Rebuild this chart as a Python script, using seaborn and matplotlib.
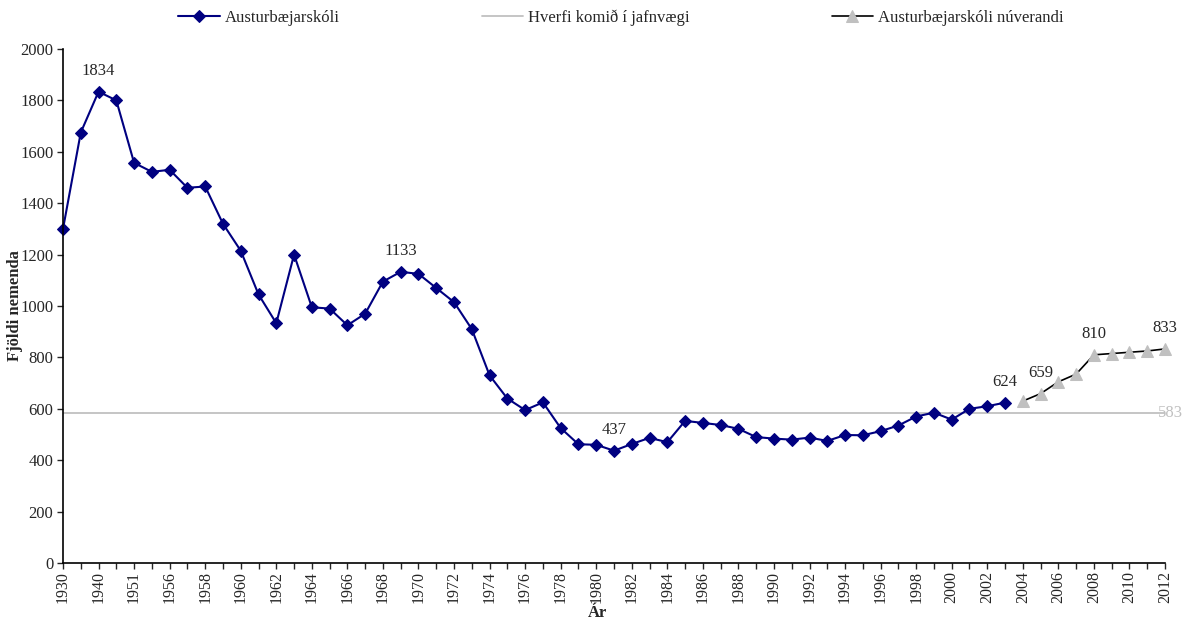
import pandas as pd
import matplotlib.pyplot as plt
import seaborn as sns

# Category labels (one per data point)
years = ["1930", "1935", "1940", "1945", "1951", "1955"] + [str(y) for y in range(1956, 2013)]

# Austurbæjarskóli, 1930-2003
school = [1300, 1675, 1834, 1800, 1557, 1522, 1530, 1460, 1465, 1320,
          1215, 1045, 933, 1200, 995, 990, 925, 970, 1095, 1133,
          1125, 1070, 1015, 910, 730, 640, 595, 625, 525, 462,
          460, 437, 463, 487, 470, 553, 545, 537, 522, 490,
          484, 480, 488, 475, 498, 497, 513, 535, 570, 585,
          558, 600, 610, 624]

# Austurbæjarskóli núverandi, 2004-2012
current = [630, 659, 705, 735, 810, 815, 820, 825, 833]

equilibrium = 583

# data labels shown on the chart: index in each series
labelled_school = [2, 19, 31, 53]
labelled_current = [1, 4, 8]

sns.set_style("white")
plt.rcParams['font.family'] = ['Liberation Serif', 'DejaVu Serif']
FS = 12

df_school = pd.DataFrame({"pos": range(len(school)), "value": school})
df_current = pd.DataFrame({"pos": range(len(school), len(school) + len(current)), "value": current})

fig = plt.figure(figsize=(11.83, 6.21), dpi=100)
ax = fig.add_axes([63 / 1183, 58 / 621, (1165 - 63) / 1183, (563 - 49) / 621])

sns.lineplot(data=df_school, x="pos", y="value", ax=ax, color="#000080", lw=1.5,
             marker="D", markersize=6, markeredgecolor="#000080", label="Austurbæjarskóli",
             clip_on=False)
ax.axhline(equilibrium, color="#C0C0C0", lw=1.3, label="Hverfi komið í jafnvægi", zorder=1)
sns.lineplot(data=df_current, x="pos", y="value", ax=ax, color="black", lw=1.2,
             marker="^", markersize=8, markerfacecolor="#C0C0C0", markeredgecolor="#C0C0C0",
             label="Austurbæjarskóli núverandi", clip_on=False)

for i in labelled_school:
    ax.annotate(str(school[i]), (df_school.pos[i], school[i]), xytext=(0, 9),
                textcoords="offset points", ha="center", va="bottom", fontsize=FS)
for i in labelled_current:
    ax.annotate(str(current[i]), (df_current.pos[i], current[i]), xytext=(0, 9),
                textcoords="offset points", ha="center", va="bottom", fontsize=FS)
ax.annotate(str(equilibrium), (len(years) - 1, equilibrium), xytext=(-5, 0),
            textcoords="offset points", ha="left", va="center", fontsize=FS, color="#C0C0C0")

ax.set_xlim(0, len(years) - 1)
ax.set_ylim(0, 2000)
ax.set_yticks(range(0, 2001, 200))
ax.set_xticks(range(len(years)))
ax.set_xticklabels([y if i % 2 == 0 else "" for i, y in enumerate(years)], rotation=90, fontsize=11.5)
ax.tick_params(axis="y", labelsize=FS, direction="out", length=4, width=1, left=True, pad=3)
ax.tick_params(axis="x", direction="out", length=4, width=1, bottom=True, pad=2)

for side in ["top", "right"]:
    ax.spines[side].set_visible(False)
for side in ["left", "bottom"]:
    ax.spines[side].set_color("black")
    ax.spines[side].set_linewidth(1.2)

ax.set_xlabel("Ár", fontsize=FS, fontweight="bold", labelpad=0, va="bottom")
ax.xaxis.set_label_coords((597 - 63) / 1102, -(621 - 563) / 514)
ax.set_ylabel("Fjöldi nemenda", fontsize=FS, fontweight="bold")
ax.yaxis.set_label_coords(-0.036, 0.5)

handles, labels = ax.get_legend_handles_labels()
ax.get_legend().remove()
fig.legend(handles, labels, loc="center", bbox_to_anchor=(0.525, 0.972), ncol=3, frameon=False,
           fontsize=FS, columnspacing=8.5, handlelength=2.5, handletextpad=0.3)

plt.savefig("out.png", dpi=100)
